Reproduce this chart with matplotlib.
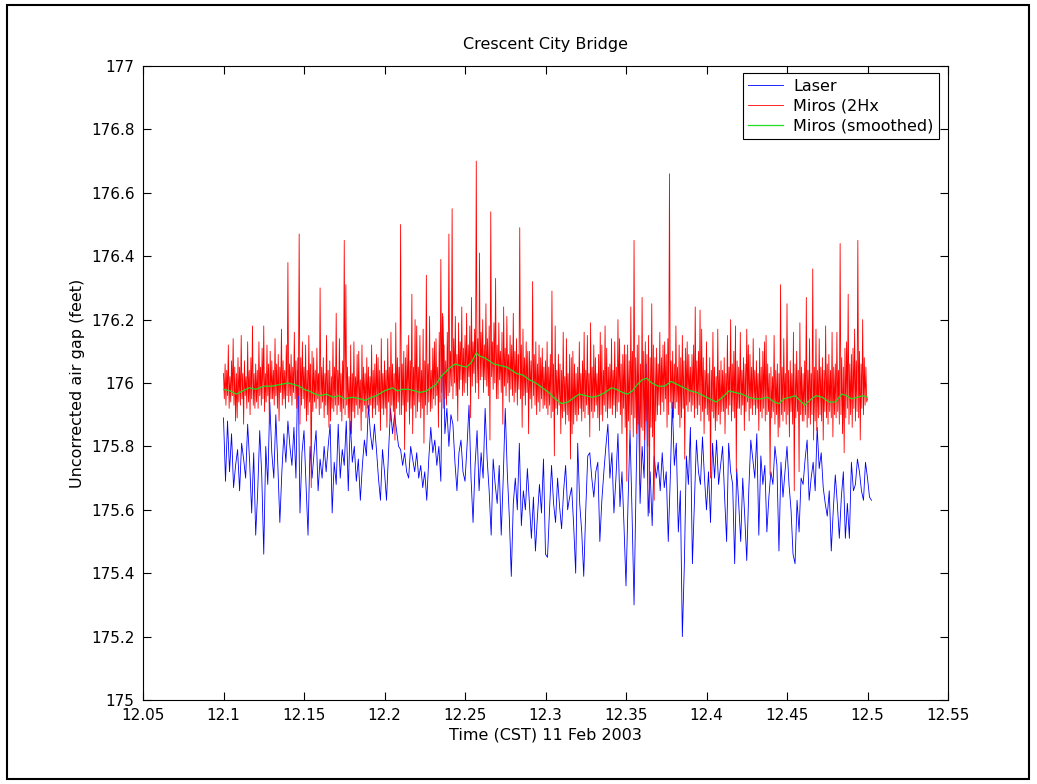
import numpy as np
import matplotlib
matplotlib.use('Agg')
import matplotlib.pyplot as plt
from matplotlib.patches import Rectangle

# Laser, evenly spaced from 12.1 to 12.5025 (one row = 0.0125 h)
laser_gap = [
    175.89, 175.69, 175.88, 175.72, 175.84, 175.67, 175.74, 175.79, 175.66, 175.81,
    175.76, 175.70, 175.87, 175.75, 175.59, 175.78, 175.52, 175.66, 175.85, 175.71,
    175.46, 175.80, 175.68, 175.94, 175.78, 175.70, 175.90, 175.74, 175.56, 175.72,
    175.84, 175.75, 175.88, 175.80, 175.74, 175.86, 175.70, 176.08, 175.59, 175.78,
    175.85, 175.68, 175.52, 175.80, 175.70, 175.78, 175.85, 175.66, 175.76, 175.70,
    175.80, 175.72, 175.80, 175.87, 175.59, 175.75, 175.68, 175.87, 175.70, 175.79,
    175.74, 175.88, 175.66, 175.88, 175.75, 175.80, 175.69, 175.76, 175.63, 175.74,
    175.82, 175.77, 175.93, 175.84, 175.79, 175.87, 175.79, 175.70, 175.63, 175.79,
    175.72, 175.63, 175.78, 175.92, 175.84, 175.90, 175.85, 175.80, 175.79, 175.74,
    175.78, 175.72, 175.70, 175.80, 175.76, 175.72, 175.78, 175.70, 175.74, 175.67,
    175.72, 175.63, 175.76, 175.86, 175.78, 175.82, 175.74, 175.80, 175.69, 176.21,
    175.84, 175.92, 175.80, 175.90, 175.87, 175.75, 175.66, 175.78, 175.82, 175.72,
    175.69, 175.80, 175.93, 175.70, 175.56, 175.74, 175.85, 175.66, 175.78, 175.70,
    175.92, 175.76, 175.66, 175.52, 175.76, 175.68, 175.62, 175.74, 175.52, 175.70,
    175.92, 175.72, 175.58, 175.39, 175.62, 175.70, 175.60, 175.81, 175.55, 175.66,
    175.60, 175.73, 175.62, 175.51, 175.64, 175.47, 175.58, 175.68, 175.59, 175.76,
    175.46, 175.45, 175.60, 175.74, 175.62, 175.56, 175.70, 175.61, 175.54, 175.66,
    175.74, 175.60, 175.64, 175.67, 175.55, 175.40, 175.81, 175.62, 175.53, 175.39,
    175.60, 175.77, 175.78, 175.70, 175.64, 175.72, 175.75, 175.50, 175.63, 175.72,
    175.80, 175.87, 175.70, 175.78, 175.59, 175.70, 175.84, 175.61, 175.72, 175.55,
    175.36, 175.62, 175.85, 175.59, 175.30, 175.68, 176.03, 175.62, 175.80, 175.70,
    176.06, 175.58, 175.72, 175.55, 175.77, 175.70, 175.75, 175.66, 175.78, 175.67,
    175.72, 175.50, 175.70, 175.94, 175.74, 175.81, 175.53, 175.66, 175.20, 175.43,
    175.77, 175.68, 175.86, 175.43, 175.62, 175.82, 175.72, 175.68, 175.83, 175.70,
    175.60, 175.72, 175.56, 175.81, 175.70, 175.82, 175.68, 175.74, 175.80, 175.64,
    175.50, 175.81, 175.72, 175.68, 175.43, 175.73, 175.62, 175.50, 175.70, 175.58,
    175.44, 175.66, 175.82, 175.76, 175.70, 175.84, 175.52, 175.77, 175.68, 175.74,
    175.53, 175.64, 175.72, 175.68, 175.80, 175.74, 175.47, 175.75, 175.64, 175.72,
    175.80, 175.68, 175.60, 175.46, 175.43, 175.63, 175.53, 175.70, 175.68, 175.76,
    175.82, 175.63, 175.70, 175.75, 175.66, 175.86, 175.73, 175.78, 175.67, 175.62,
    175.58, 175.66, 175.47, 175.60, 175.71, 175.62, 175.51, 175.64, 175.72, 175.51,
    175.62, 175.51, 175.75, 175.66, 175.68, 175.76, 175.72, 175.66, 175.63, 175.75,
    175.70, 175.64, 175.63,
]
laser_time = np.linspace(12.1, 12.5025, len(laser_gap))

# Miros 2 Hz, evenly spaced from 12.1 to 12.5 (one row = 0.01 h)
miros_gap = [
    176.03, 175.95, 176.06, 175.93, 176.04, 175.96, 176.12, 175.92, 176.02, 175.94, 176.07, 175.96, 176.14, 175.93, 176.05, 175.88, 176.03, 175.89, 176.08, 175.94,
    176.05, 175.93, 176.15, 175.95, 176.03, 175.87, 176.07, 175.96, 176.02, 175.92, 176.13, 175.94, 176.04, 175.90, 176.08, 175.95, 176.18, 175.93, 176.03, 175.92,
    176.06, 175.94, 176.04, 175.92, 176.13, 175.96, 176.05, 175.93, 176.11, 175.95, 176.18, 175.91, 176.03, 175.94, 176.12, 175.96, 176.06, 175.87, 176.10, 175.95,
    176.07, 175.95, 176.04, 175.93, 176.14, 175.96, 176.06, 175.92, 176.09, 175.88, 176.05, 175.97, 176.17, 175.93, 176.07, 175.95, 176.04, 175.92, 176.12, 175.96,
    176.38, 175.94, 176.06, 175.96, 176.09, 175.93, 176.05, 175.97, 176.16, 175.95, 176.07, 175.92, 176.04, 175.96, 176.47, 175.87, 176.08, 175.93, 176.13, 175.95,
    176.05, 175.92, 176.12, 175.88, 176.04, 175.90, 176.15, 175.94, 176.06, 175.67, 176.10, 175.91, 176.08, 175.94, 176.04, 175.92, 176.11, 175.95, 176.03, 175.90,
    176.30, 175.92, 176.05, 175.94, 176.08, 175.89, 176.03, 175.93, 176.15, 175.90, 176.04, 175.86, 176.07, 175.88, 176.02, 175.92, 176.13, 175.91, 176.05, 175.93,
    176.22, 175.90, 176.04, 175.93, 176.14, 175.91, 176.03, 175.88, 176.07, 175.92, 176.45, 175.90, 176.31, 175.93, 176.05, 175.89, 176.02, 175.85, 176.12, 175.84,
    176.03, 175.91, 176.13, 175.89, 176.02, 175.93, 176.09, 175.90, 176.10, 175.92, 176.01, 175.85, 176.12, 175.91, 176.05, 175.93, 176.03, 175.89, 176.08, 175.92,
    176.05, 175.91, 176.02, 175.93, 176.12, 175.89, 176.04, 175.92, 176.06, 175.90, 176.09, 175.93, 176.08, 175.91, 176.04, 175.85, 176.14, 175.92, 176.03, 175.90,
    176.07, 175.92, 176.04, 175.86, 176.14, 175.94, 176.05, 175.88, 176.16, 175.93, 176.06, 175.91, 176.03, 175.82, 176.19, 175.92, 176.08, 175.94, 176.05, 175.90,
    176.50, 175.90, 176.06, 175.93, 176.10, 175.79, 176.08, 175.91, 176.12, 175.94, 176.15, 175.87, 176.07, 175.92, 176.28, 175.84, 176.05, 175.93, 176.20, 175.89,
    176.18, 175.91, 176.05, 175.94, 176.15, 175.89, 176.04, 175.92, 176.17, 175.81, 176.07, 175.93, 176.34, 175.90, 176.06, 175.94, 176.21, 175.91, 176.04, 175.92,
    176.11, 175.95, 176.13, 175.93, 176.14, 175.96, 176.05, 175.86, 176.16, 175.94, 176.39, 175.97, 176.22, 175.92, 176.12, 175.95, 176.07, 175.93, 176.16, 175.96,
    176.47, 175.97, 176.10, 175.99, 176.55, 175.95, 176.14, 176.00, 176.21, 175.96, 176.09, 175.88, 176.19, 175.98, 176.13, 176.01, 176.24, 175.96, 176.11, 175.97,
    176.15, 176.00, 176.22, 175.96, 176.12, 176.02, 176.18, 175.89, 176.27, 175.99, 176.13, 176.03, 176.17, 175.97, 176.70, 176.00, 176.14, 175.95, 176.41, 176.01,
    176.16, 176.02, 176.20, 175.97, 176.12, 176.01, 176.25, 175.99, 176.14, 175.96, 176.18, 175.82, 176.54, 176.02, 176.13, 175.98, 176.19, 176.00, 176.33, 175.95,
    176.12, 175.95, 176.19, 176.01, 176.10, 175.97, 176.16, 175.87, 176.24, 175.99, 176.11, 175.96, 176.21, 176.00, 176.09, 175.94, 176.15, 175.98, 176.12, 175.96,
    176.22, 175.94, 176.10, 175.97, 176.14, 175.93, 176.09, 175.98, 176.49, 175.95, 176.12, 175.86, 176.17, 175.96, 176.08, 175.93, 176.13, 175.97, 176.10, 175.84,
    176.10, 175.95, 176.07, 175.92, 176.32, 175.96, 176.09, 175.93, 176.13, 175.90, 176.06, 175.94, 176.12, 175.91, 176.08, 175.95, 176.11, 175.92, 176.05, 175.93,
    176.07, 175.92, 176.13, 175.90, 176.05, 175.93, 176.09, 175.89, 176.29, 175.91, 176.06, 175.77, 176.18, 175.92, 176.04, 175.90, 176.09, 175.93, 176.06, 175.84,
    176.04, 175.89, 176.16, 175.91, 176.02, 175.87, 176.14, 175.90, 176.03, 175.88, 176.09, 175.76, 176.08, 175.84, 176.10, 175.87, 176.06, 175.90, 176.03, 175.88,
    176.05, 175.90, 176.13, 175.92, 176.03, 175.88, 176.07, 175.91, 176.16, 175.89, 176.04, 175.93, 176.15, 175.90, 176.03, 175.83, 176.19, 175.91, 176.05, 175.89,
    176.12, 175.91, 176.08, 175.93, 176.03, 175.89, 176.09, 175.85, 176.16, 175.90, 176.12, 175.88, 176.04, 175.93, 176.18, 175.91, 176.11, 175.89, 176.05, 175.92,
    176.06, 175.92, 176.14, 175.90, 176.04, 175.93, 176.13, 175.89, 176.05, 175.91, 176.20, 175.94, 176.14, 175.90, 176.06, 175.84, 176.09, 175.92, 176.12, 175.86,
    176.09, 175.69, 176.12, 175.88, 176.07, 175.85, 176.24, 175.90, 176.10, 175.83, 176.45, 175.89, 176.08, 175.84, 176.12, 175.87, 176.15, 175.68, 176.06, 175.86,
    176.27, 175.85, 176.10, 175.82, 176.13, 175.88, 176.09, 175.80, 176.15, 175.59, 176.08, 175.86, 176.25, 175.83, 176.12, 175.63, 176.08, 175.88, 176.11, 175.90,
    176.06, 175.93, 176.16, 175.90, 176.08, 175.94, 176.12, 175.91, 176.13, 175.95, 176.09, 175.86, 176.14, 175.90, 176.66, 175.94, 176.07, 175.92, 176.10, 175.89,
    176.06, 175.92, 176.18, 175.94, 176.05, 175.90, 176.12, 175.86, 176.08, 175.89, 176.15, 175.92, 176.07, 175.76, 176.11, 175.93, 176.13, 175.91, 176.09, 175.94,
    176.05, 175.91, 176.09, 175.93, 176.12, 175.89, 176.24, 175.92, 176.07, 175.90, 176.10, 175.93, 176.23, 175.88, 176.17, 175.91, 176.08, 175.84, 176.04, 175.92,
    176.13, 175.90, 176.03, 175.88, 176.08, 175.70, 176.04, 175.91, 176.16, 175.89, 176.05, 175.85, 176.02, 175.88, 176.17, 175.90, 176.04, 175.87, 176.07, 175.91,
    176.04, 175.91, 176.08, 175.84, 176.03, 175.92, 176.15, 175.90, 176.05, 175.93, 176.20, 175.88, 176.06, 175.91, 176.10, 175.89, 176.18, 175.72, 176.07, 175.92,
    176.05, 175.92, 176.16, 175.90, 176.04, 175.93, 176.08, 175.85, 176.06, 175.91, 176.17, 175.94, 176.12, 175.88, 176.09, 175.92, 176.05, 175.90, 176.14, 175.93,
    176.04, 175.90, 176.07, 175.92, 176.03, 175.85, 176.11, 175.91, 176.05, 175.89, 176.10, 175.92, 176.13, 175.88, 176.15, 175.90, 176.06, 175.91, 176.03, 175.71,
    176.05, 175.89, 176.02, 175.91, 176.15, 175.87, 176.04, 175.90, 176.06, 175.83, 176.03, 175.86, 176.31, 175.90, 176.05, 175.88, 176.14, 175.91, 176.03, 175.87,
    176.25, 175.90, 176.04, 175.83, 176.07, 175.91, 176.03, 175.87, 176.16, 175.66, 176.06, 175.89, 176.10, 175.91, 176.04, 175.72, 176.19, 175.90, 176.05, 175.88,
    176.03, 175.88, 176.07, 175.90, 176.27, 175.86, 176.04, 175.89, 176.14, 175.87, 176.03, 175.90, 176.36, 175.82, 176.05, 175.88, 176.17, 175.85, 176.04, 175.89,
    176.14, 175.90, 176.05, 175.88, 176.08, 175.82, 176.04, 175.91, 176.18, 175.89, 176.06, 175.87, 176.09, 175.91, 176.04, 175.89, 176.16, 175.83, 176.05, 175.90,
    176.06, 175.89, 176.16, 175.91, 176.04, 175.87, 176.44, 175.90, 176.08, 175.84, 176.05, 175.78, 176.11, 175.89, 176.13, 175.92, 176.28, 175.87, 176.06, 175.90,
    176.09, 175.86, 176.11, 175.92, 176.17, 175.88, 176.07, 175.91, 176.45, 175.89, 176.10, 175.82, 176.06, 175.92, 176.20, 175.90, 176.08, 175.93, 176.05, 175.94,
    175.95,
]
miros_time = np.linspace(12.1, 12.5, len(miros_gap))

# Miros smoothed
smooth_time = [
    12.100, 12.104, 12.108, 12.112, 12.116, 12.120, 12.125, 12.130, 12.135, 12.140,
    12.144, 12.147, 12.150, 12.153, 12.157, 12.160, 12.164, 12.168, 12.172, 12.175,
    12.180, 12.185, 12.188, 12.192, 12.195, 12.200, 12.205, 12.208, 12.211, 12.215,
    12.219, 12.222, 12.226, 12.229, 12.232, 12.235, 12.238, 12.241, 12.244, 12.247,
    12.251, 12.254, 12.257, 12.259, 12.262, 12.265, 12.268, 12.272, 12.276, 12.279,
    12.282, 12.286, 12.290, 12.294, 12.298, 12.302, 12.306, 12.310, 12.314, 12.318,
    12.321, 12.325, 12.329, 12.333, 12.337, 12.341, 12.344, 12.348, 12.351, 12.354,
    12.357, 12.360, 12.363, 12.366, 12.370, 12.374, 12.378, 12.382, 12.386, 12.390,
    12.394, 12.398, 12.402, 12.406, 12.410, 12.414, 12.418, 12.422, 12.426, 12.430,
    12.434, 12.438, 12.442, 12.445, 12.448, 12.452, 12.455, 12.458, 12.461, 12.464,
    12.468, 12.472, 12.476, 12.480, 12.484, 12.487, 12.490, 12.494, 12.497, 12.500,
]
smooth_gap = [
    175.980, 175.975, 175.965, 175.975, 175.985, 175.980, 175.990, 175.990, 175.995, 176.000,
    175.995, 175.990, 175.980, 175.975, 175.965, 175.960, 175.965, 175.955, 175.960, 175.950,
    175.955, 175.950, 175.945, 175.955, 175.960, 175.975, 175.985, 175.975, 175.980, 175.980,
    175.975, 175.970, 175.975, 175.985, 175.995, 176.020, 176.035, 176.050, 176.060, 176.055,
    176.050, 176.065, 176.095, 176.085, 176.080, 176.070, 176.060, 176.055, 176.050, 176.040,
    176.030, 176.025, 176.010, 176.000, 175.985, 175.970, 175.950, 175.935, 175.940, 175.955,
    175.965, 175.960, 175.955, 175.960, 175.970, 175.985, 175.980, 175.970, 175.965, 175.975,
    175.995, 176.010, 176.015, 176.000, 175.990, 175.990, 176.005, 175.995, 175.985, 175.975,
    175.970, 175.960, 175.950, 175.940, 175.955, 175.975, 175.970, 175.965, 175.955, 175.950,
    175.950, 175.955, 175.940, 175.935, 175.950, 175.955, 175.960, 175.945, 175.930, 175.945,
    175.960, 175.955, 175.940, 175.940, 175.965, 175.960, 175.950, 175.955, 175.960, 175.955,
]

x_ticks = [12.05, 12.1, 12.15, 12.2, 12.25, 12.3, 12.35, 12.4, 12.45, 12.5, 12.55]
x_tick_labels = ['12.05', '12.1', '12.15', '12.2', '12.25', '12.3', '12.35', '12.4', '12.45', '12.5', '12.55']
y_ticks = [175, 175.2, 175.4, 175.6, 175.8, 176, 176.2, 176.4, 176.6, 176.8, 177]
y_tick_labels = ['175', '175.2', '175.4', '175.6', '175.8', '176', '176.2', '176.4', '176.6', '176.8', '177']

W, H = 1037, 784
fig = plt.figure(figsize=(W / 100, H / 100), dpi=100)
ax = fig.add_axes([143 / W, 1 - 700 / H, 805 / W, 634 / H])

ax.plot(laser_time, laser_gap, color='#0000ff', lw=0.6, label='Laser', zorder=2)
ax.plot(miros_time, miros_gap, color='#ff0000', lw=0.6, label='Miros (2Hx', zorder=3)
ax.plot(smooth_time, smooth_gap, color='#22dd22', lw=0.9, label='Miros (smoothed)', zorder=4)

ax.set_xlim(12.05, 12.55)
ax.set_ylim(175, 177)
ax.set_xticks(x_ticks)
ax.set_xticklabels(x_tick_labels)
ax.set_yticks(y_ticks)
ax.set_yticklabels(y_tick_labels)
ax.tick_params(direction='in', length=6, width=0.8, top=True, right=True,
               labelsize=11, pad=6, colors='black')
for s in ax.spines.values():
    s.set_linewidth(0.8)

ax.set_title('Crescent City Bridge', fontsize=11.5, pad=12)
ax.set_xlabel('Time (CST) 11 Feb 2003', fontsize=11.5, labelpad=3)
ax.set_ylabel('Uncorrected air gap (feet)', fontsize=11.5, labelpad=4)

leg = ax.legend(loc='upper right', bbox_to_anchor=(1 - 9 / 805, 1 - 7 / 634),
                borderaxespad=0, fontsize=11.5, fancybox=False, framealpha=1,
                edgecolor='black', handlelength=2.2, handletextpad=0.6,
                labelspacing=0.3, borderpad=0.35)
leg.get_frame().set_linewidth(0.8)

# outer frame of the figure
fig.patches.append(Rectangle((7 / W, 5 / H), 1022 / W, 774 / H, transform=fig.transFigure,
                             fill=False, edgecolor='black', linewidth=1.5))

fig.savefig('out.png', dpi=100)
